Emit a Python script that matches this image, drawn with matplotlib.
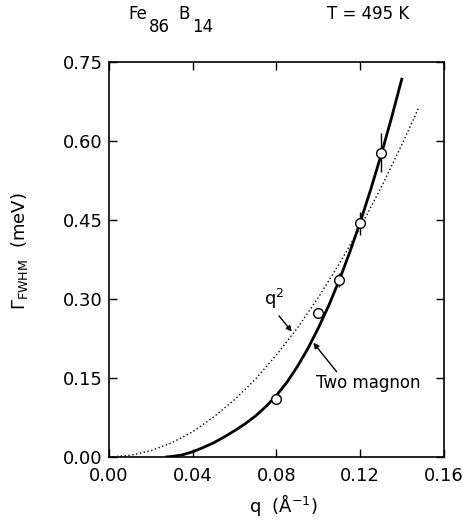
import matplotlib
matplotlib.use("Agg")
import matplotlib.pyplot as plt

plt.rcParams['font.family'] = ['DejaVu Sans']
plt.rcParams['mathtext.fontset'] = 'dejavusans'

# Measured data points
q_data = [0.080, 0.100, 0.110, 0.120, 0.130]
gamma_data = [0.110, 0.273, 0.336, 0.444, 0.578]
gamma_err = [0.0, 0.0, 0.013, 0.022, 0.037]

# Two-magnon theory curve
q_two = [0.027, 0.030, 0.035, 0.040, 0.045, 0.050, 0.055, 0.060, 0.065, 0.070,
         0.075, 0.080, 0.085, 0.090, 0.095, 0.100, 0.105, 0.110, 0.115, 0.120,
         0.125, 0.130, 0.135, 0.140]
gamma_two = [0.000, 0.001, 0.004, 0.010, 0.018, 0.027, 0.038, 0.050, 0.063, 0.078,
             0.096, 0.117, 0.142, 0.172, 0.206, 0.245, 0.288, 0.336, 0.389, 0.446,
             0.508, 0.574, 0.645, 0.720]

# q^2 curve
q_sq = [0.000, 0.010, 0.020, 0.030, 0.040, 0.050, 0.060, 0.070, 0.080, 0.090,
        0.100, 0.110, 0.120, 0.130, 0.140, 0.148]
gamma_sq = [0.000, 0.003, 0.012, 0.027, 0.048, 0.076, 0.109, 0.148, 0.194, 0.245,
            0.303, 0.367, 0.436, 0.512, 0.594, 0.664]

x_ticks = [0.00, 0.04, 0.08, 0.12, 0.16]
x_ticklabels = ["0.00", "0.04", "0.08", "0.12", "0.16"]
y_ticks = [0.00, 0.15, 0.30, 0.45, 0.60, 0.75]
y_ticklabels = ["0.00", "0.15", "0.30", "0.45", "0.60", "0.75"]

W, H = 464, 525
fig = plt.figure(figsize=(W/100, H/100), dpi=100)
ax = fig.add_axes([109/W, 1-457/H, (444-109)/W, (457-62)/H])

ax.plot(q_sq, gamma_sq, color='black', lw=1.0, linestyle=(0, (1, 1.8)))
ax.plot(q_two, gamma_two, color='black', lw=2.0, solid_capstyle='butt')
ax.errorbar(q_data, gamma_data, yerr=gamma_err, fmt='o', ms=7, mfc='white',
            mec='black', mew=1.0, ecolor='black', elinewidth=1.0, capsize=0, zorder=5)

ax.set_xlim(0, 0.16)
ax.set_ylim(0, 0.75)
ax.set_xticks(x_ticks)
ax.set_xticklabels(x_ticklabels)
ax.set_yticks(y_ticks)
ax.set_yticklabels(y_ticklabels)
ax.tick_params(direction='in', length=6, width=1.0, top=True, right=True,
               labelsize=13)
ax.tick_params(axis='x', pad=7)
ax.tick_params(axis='y', pad=4.5)
for s in ax.spines.values():
    s.set_linewidth(1.2)

ax.set_xlabel("q  (Å$^{-1}$)", fontsize=13)
ax.xaxis.set_label_coords((283-109)/335, (457-512)/395)
ax.xaxis.label.set_va('baseline')
ax.set_ylabel("Γ$_{\\mathrm{FWHM}}$  (meV)", fontsize=13)
ax.yaxis.set_label_coords((30-109)/335, (457-251)/395)

# q^2 annotation
ax.text(0.0788, 0.300, "q$^{2}$", ha='center', va='center', fontsize=13)
ax.annotate("", xy=(0.0873, 0.238), xytext=(0.0812, 0.268),
            arrowprops=dict(arrowstyle='-|>', color='black', lw=1.0,
                            mutation_scale=8, shrinkA=0, shrinkB=0))
# Two magnon annotation
ax.text(0.1236, 0.140, "Two magnon", ha='center', va='center', fontsize=12)
ax.annotate("", xy=(0.0976, 0.217), xytext=(0.1087, 0.162),
            arrowprops=dict(arrowstyle='-|>', color='black', lw=1.0,
                            mutation_scale=8, shrinkA=0, shrinkB=0))

# Title pieces (subscripts same size, lowered)
fs_t = 12
fig.text(128/W, 1-19/H, "Fe", fontsize=fs_t, ha='left', va='baseline')
fig.text(149/W, 1-32/H, "86", fontsize=fs_t, ha='left', va='baseline')
fig.text(178/W, 1-19/H, "B", fontsize=fs_t, ha='left', va='baseline')
fig.text(192/W, 1-32/H, "14", fontsize=fs_t, ha='left', va='baseline')
fig.text(368/W, 1-19/H, "T = 495 K", fontsize=fs_t, ha='center', va='baseline')

fig.savefig("out.png", dpi=100)
